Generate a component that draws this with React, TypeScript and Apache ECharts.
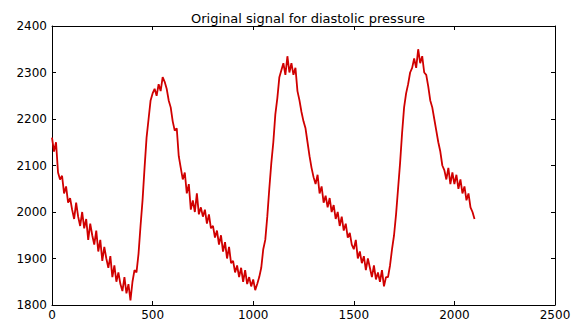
import React, { useEffect, useRef } from "react";
import * as echarts from "echarts";

const title = "Original signal for diastolic pressure";
const xTicks = [0, 500, 1000, 1500, 2000, 2500];
const yTicks = [1800, 1900, 2000, 2100, 2200, 2300, 2400];
const sampleStep = 10;

// pressure readings, one per 10 samples, rows of 100 samples
const s0000 = [2160, 2130, 2150, 2085, 2070, 2078, 2040, 2055, 2020, 2030];
const s0100 = [2005, 1985, 2020, 1990, 1970, 2000, 1965, 1985, 1940, 1975];
const s0200 = [1950, 1930, 1960, 1915, 1940, 1895, 1925, 1900, 1880, 1905];
const s0300 = [1860, 1885, 1850, 1870, 1845, 1830, 1860, 1825, 1845, 1810];
const s0400 = [1850, 1875, 1870, 1910, 1970, 2025, 2095, 2160, 2200, 2240];
const s0500 = [2255, 2265, 2250, 2275, 2260, 2290, 2280, 2265, 2240, 2225];
const s0600 = [2195, 2175, 2180, 2120, 2095, 2070, 2085, 2040, 2060, 2005];
const s0700 = [2025, 2000, 2040, 1995, 2010, 1990, 2005, 1975, 1995, 1965];
const s0800 = [1970, 1945, 1960, 1930, 1950, 1915, 1935, 1900, 1925, 1890];
const s0900 = [1895, 1870, 1885, 1860, 1880, 1850, 1875, 1845, 1860, 1840];
const s1000 = [1855, 1832, 1845, 1860, 1880, 1920, 1940, 1990, 2050, 2105];
const s1100 = [2150, 2210, 2245, 2290, 2305, 2320, 2295, 2335, 2300, 2320];
const s1200 = [2295, 2310, 2260, 2240, 2215, 2195, 2180, 2150, 2120, 2095];
const s1300 = [2075, 2060, 2080, 2040, 2055, 2020, 2035, 2010, 2030, 2000];
const s1400 = [2015, 1985, 2000, 1970, 1990, 1960, 1975, 1945, 1955, 1930];
const s1500 = [1920, 1940, 1900, 1915, 1890, 1905, 1875, 1900, 1880, 1860];
const s1600 = [1885, 1855, 1870, 1850, 1875, 1840, 1860, 1860, 1885, 1920];
const s1700 = [1950, 1995, 2050, 2105, 2170, 2225, 2255, 2275, 2300, 2310];
const s1800 = [2330, 2310, 2350, 2320, 2335, 2300, 2295, 2270, 2240, 2225];
const s1900 = [2200, 2175, 2150, 2130, 2100, 2090, 2070, 2095, 2060, 2085];
const s2000 = [2060, 2080, 2050, 2070, 2040, 2055, 2025, 2040, 2010, 2000];
const s2100 = [1985];

const rows = [s0000, s0100, s0200, s0300, s0400, s0500, s0600, s0700, s0800, s0900, s1000,
  s1100, s1200, s1300, s1400, s1500, s1600, s1700, s1800, s1900, s2000, s2100];

export default function App() {
  const ref = useRef<HTMLDivElement>(null);
  useEffect(() => {
    if (!ref.current) return;
    const chart = echarts.init(ref.current, undefined, { renderer: "svg" });
    const values = rows.flat();
    const data = values.map((v, i) => [i * sampleStep, v]);
    const font = "DejaVu Sans, Arial, sans-serif";
    const axisCommon = {
      type: "value" as const,
      axisLine: { show: true, onZero: false, lineStyle: { color: "#000", width: 1 } },
      axisTick: { show: true, inside: true, length: 4, lineStyle: { color: "#000" } },
      splitLine: { show: false },
    };
    const plain = (v: number) => String(v);
    chart.setOption({
      animation: false,
      backgroundColor: "#fff",
      title: {
        text: title,
        left: 303,
        textAlign: "center",
        top: 7,
        textStyle: { fontFamily: font, fontSize: 13, fontWeight: "normal", color: "#000" },
      },
      grid: { left: 52, right: 27, top: 26, bottom: 17 },
      xAxis: [
        {
          ...axisCommon,
          position: "bottom",
          min: xTicks[0],
          max: xTicks[xTicks.length - 1],
          interval: 500,
          axisLabel: { fontFamily: font, fontSize: 12, color: "#000", margin: 4, formatter: plain },
        },
        {
          ...axisCommon,
          position: "top",
          min: xTicks[0],
          max: xTicks[xTicks.length - 1],
          interval: 500,
          axisLabel: { show: false },
        },
      ],
      yAxis: [
        {
          ...axisCommon,
          position: "left",
          min: yTicks[0],
          max: yTicks[yTicks.length - 1],
          interval: 100,
          axisLabel: { fontFamily: font, fontSize: 12, color: "#000", margin: 5, formatter: plain },
        },
        {
          ...axisCommon,
          position: "right",
          min: yTicks[0],
          max: yTicks[yTicks.length - 1],
          interval: 100,
          axisLabel: { show: false },
        },
      ],
      series: [
        {
          type: "line",
          data,
          showSymbol: false,
          symbol: "none",
          lineStyle: { color: "#d00000", width: 1.8 },
          xAxisIndex: 0,
          yAxisIndex: 0,
        },
      ],
    });
    return () => chart.dispose();
  }, []);
  return (
    <div
      ref={ref}
      style={{ position: "absolute", left: 0, top: 0, width: 582, height: 322 }}
    />
  );
}
